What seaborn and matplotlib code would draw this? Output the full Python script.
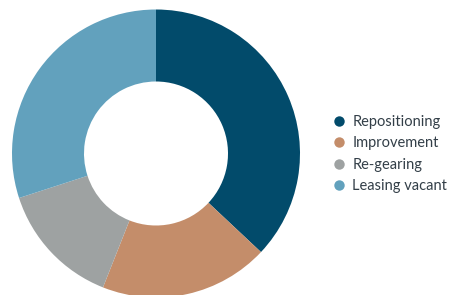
import matplotlib
matplotlib.use("Agg")
import matplotlib.pyplot as plt
from matplotlib.lines import Line2D
import seaborn as sns

# data (share of total, %)
categories = ["Repositioning", "Improvement", "Re-gearing", "Leasing vacant"]
shares = [37, 19, 14, 30]
colours = ["#024b6b", "#c48d6a", "#9ea2a2", "#62a1bd"]

sns.set_theme(style="white")
plt.rcParams["font.family"] = ["Lato", "DejaVu Sans"]

fig = plt.figure(figsize=(4.53, 2.95), dpi=100)
# donut: centre ~(156,154) px, outer radius ~144 px
ax = fig.add_axes([12 / 453, 1 - 297.5 / 295, 288 / 453, 288 / 295])
palette = sns.color_palette(colours)
ax.pie(shares, colors=palette, startangle=90, counterclock=False,
       radius=1.0, wedgeprops=dict(width=0.5, edgecolor="none"))
ax.set_xlim(-1, 1)
ax.set_ylim(-1, 1)
ax.set_aspect("equal")
ax.axis("off")

handles = [Line2D([0], [0], marker="o", linestyle="none", markersize=7.5,
                  markerfacecolor=c, markeredgecolor="none") for c in palette]
fig.legend(handles, categories, loc="center left",
           bbox_to_anchor=(333.5 / 453, 1 - 154 / 295),
           frameon=False, fontsize=10.5, handlelength=0.8, handletextpad=0.5,
           labelspacing=0.5, borderpad=0, borderaxespad=0,
           labelcolor="#333f48")

fig.savefig("out.png", dpi=100)
